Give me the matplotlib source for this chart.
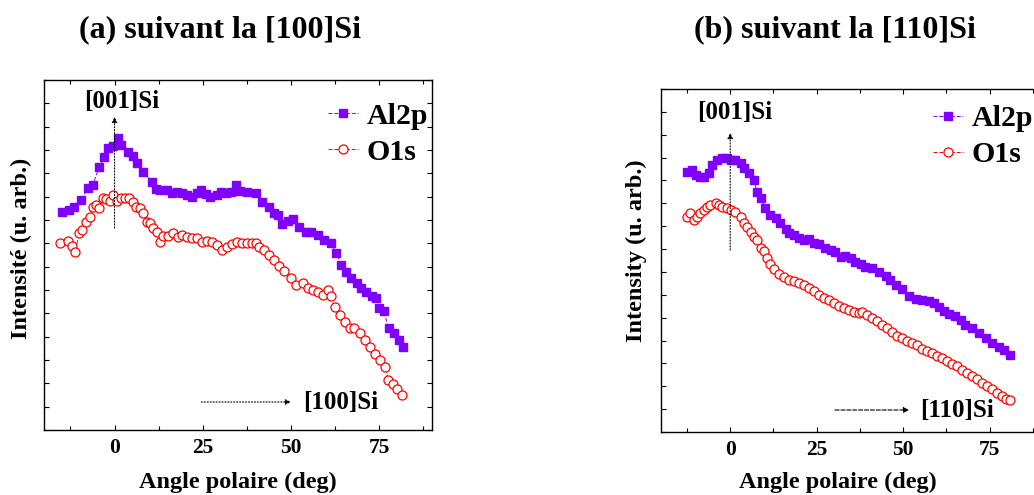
"""Angular distributions of Al2p and O1s photoelectron intensities."""

import matplotlib
matplotlib.use("Agg")
import matplotlib.pyplot as plt
import numpy as np
from matplotlib.ticker import MultipleLocator, NullFormatter

plt.rcParams["font.family"] = ["Liberation Serif", "DejaVu Serif"]
plt.rcParams["font.weight"] = "bold"

PURPLE = "#7f00ff"
RED = "#ff0000"

# (a) along [100]Si -- intensities in arbitrary units
a_al2p_angle = [-14.8, -12.9, -11.4, -9.5, -7.6, -6.2, -4.3, -2.9, -1.9, -0.5, 0.9, 1.9,
                3.8, 5.2, 6.3, 8.1, 10.5, 11.7, 12.9, 14.8, 16.2, 17.6, 19.1, 20.5, 21.9,
                23.3, 24.6, 26.0, 27.1, 29.1, 30.3, 31.7, 32.9, 34.3, 35.7, 37.6, 40.0,
                41.9, 43.8, 45.2, 46.3, 47.6, 49.1, 50.6, 52.4, 54.3, 55.7, 57.6, 59.5,
                61.4, 62.9, 64.3, 65.7, 67.1, 68.6, 70.0, 71.4, 72.9, 74.0, 74.9, 76.3,
                77.7, 79.1, 80.6, 81.9]
a_al2p_int = [218.3, 220, 223.3, 230, 241.7, 245, 263.3, 272.7, 281.7, 284, 292.3, 285,
              278.3, 274, 267, 258.3, 248.3, 241, 240, 240, 236.7, 238.3, 236.7, 235, 232.5,
              236.7, 240, 236, 233, 235, 238, 237, 238.3, 245, 239, 238.3, 236.7,
              228.3, 223.3, 216.7, 215, 206, 208.5, 211, 203.3, 198, 198.3, 195, 190,
              186.7, 176.7, 165, 158.3, 151.7, 146.7, 141.7, 138.3, 134.5, 131.7, 121.7, 119,
              101.7, 96.7, 90, 83.3]

a_o1s_angle = [-15.5, -13.3, -12.2, -11.2, -10.0, -9.2, -8.1, -7.1, -6.2, -5.2, -4.3, -3.3,
               -2.4, -1.4, -0.3, 0.8, 1.9, 3.1, 4.1, 5.1, 6.2, 7.1, 8.1, 9.1, 10.0, 10.9,
               11.9, 12.9, 13.8, 15.2, 16.7, 18.1, 19.1, 20.5, 21.9, 23.3, 24.8, 26.2,
               27.6, 29.1, 30.5, 31.9, 33.3, 34.8, 36.2, 37.6, 38.9, 40.0, 40.9, 42.4,
               43.8, 45.2, 46.7, 48.1, 50.0, 51.4, 53.3, 54.8, 56.2, 57.6, 59.1, 60.5,
               61.4, 62.4, 63.8, 65.2, 66.7, 68.0, 69.5, 70.9, 72.4, 73.8, 75.2, 76.7,
               77.6, 78.9, 80.0, 81.4]
a_o1s_int = [187.3, 189.3, 184, 178.3, 196.7, 200, 208.3, 213.3, 223.3, 225, 221.7, 231.7,
             230.7, 229.3, 235, 229.3, 231.7, 231.7, 231.7, 228.3, 223.3, 221.7, 216.7, 208.3,
             206.7, 201.7, 198.3, 188.3, 194.3, 194.3, 197.3, 193.3, 195, 193.3, 191.7, 192.3,
             188.3, 189, 188.3, 185, 180, 182.5, 186, 188, 187.3, 186.7, 187, 187.3, 182.7,
             180, 175, 170, 164.5, 159.5, 151.7, 145, 146.7, 141.7, 140, 138.3, 135, 140,
             134, 122.7, 115, 108, 101.7, 101.7, 96.7, 90, 83.3, 76, 70.5, 63.3, 50, 46,
             41.5, 35]

# (b) along [110]Si
b_al2p_angle = [-12.4, -11.0, -10.0, -8.6, -7.6, -6.2, -5.2, -3.8, -2.3, -0.9, 0.1, 1.5,
                3.0, 4.0, 5.4, 6.8, 7.8, 8.8, 10.2, 11.6, 13.1, 14.5, 16.0, 17.1, 18.4,
                19.9, 21.3, 22.7, 24.2, 25.6, 27.5, 29.0, 30.4, 31.9, 33.3, 34.8, 36.2,
                37.7, 39.1, 41.0, 43.0, 44.9, 46.3, 47.8, 49.7, 51.6, 53.6, 55.5, 57.4,
                58.9, 60.3, 61.8, 63.2, 65.1, 66.6, 68.0, 69.9, 71.9, 73.8, 75.7, 77.7,
                79.1, 81.0]
b_al2p_int = [260.3, 262, 257, 255.3, 255.3, 258.7, 267, 272, 273.7, 273.7, 272, 272,
              268.7, 263.7, 258.7, 252, 240.3, 233.7, 223.7, 217, 213.7, 208.7, 203, 199, 197,
              194.5, 192, 193, 188.7, 188, 184.5, 182, 180, 175.3, 176.5, 173.7, 170.3,
              168, 165.3, 163.7, 160, 156.5, 152, 147, 143, 136, 133, 132, 131,
              129, 125, 121, 118.5, 116, 112, 107, 103.7, 98.7, 93.7, 88.7, 85.3,
              82, 77]

b_o1s_angle = [-12.4, -11.5, -10.5, -9.5, -8.6, -7.6, -6.6, -5.7, -4.2, -3.3, -2.3, -0.9,
               0.1, 1.5, 3.0, 4.0, 4.9, 5.9, 6.8, 7.8, 8.8, 9.7, 10.7, 11.6, 12.6, 14.1,
               15.5, 17.0, 18.4, 19.9, 21.3, 22.7, 24.2, 25.6, 27.1, 28.5, 30.0, 31.4,
               32.9, 34.3, 35.8, 37.2, 38.2, 39.6, 41.0, 42.5, 43.9, 45.4, 46.8, 48.3,
               49.7, 51.2, 52.6, 54.0, 55.5, 56.9, 58.4, 59.8, 61.3, 62.7, 64.2, 65.6,
               67.1, 68.5, 69.9, 71.4, 72.8, 74.3, 75.7, 77.2, 78.6, 79.8, 81.0]
b_o1s_int = [215.3, 218.7, 212, 215.3, 218.7, 222, 225.3, 227, 229.3, 227, 225.3, 223.7,
             222, 220.3, 215.3, 208.7, 205.3, 200.3, 195.3, 192, 183.7, 181, 174.5, 168.5,
             163, 158, 155, 152.5, 151, 149.3, 147, 144, 141, 137.5, 134.5, 132, 129, 126,
             123.7, 122, 120.3, 119.5, 120.3, 117, 114.5, 111, 107.5, 103.7, 100, 96.5,
             94, 91, 89.5, 87, 83.5, 81.5, 79.5, 76.5, 74.5, 71, 68.2, 66,
             62.5, 59.3, 56, 52.7, 49.3, 46, 42.6, 39.3, 36, 33.5, 32]

x_ticks = [0, 25, 50, 75]


def style_axes(ax, ymax):
    ax.set_xlim(-20, 90)
    ax.set_ylim(0, ymax)
    ax.set_xticks(x_ticks)
    ax.xaxis.set_minor_locator(MultipleLocator(12.5))
    ax.set_yticks(np.linspace(0, ymax, 16))
    ax.yaxis.set_major_formatter(NullFormatter())
    ax.tick_params(which="both", direction="in", top=True, right=True,
                   labelsize=15.5, pad=6, width=0.8)
    ax.tick_params(which="major", length=3.5)
    ax.tick_params(which="minor", length=3)
    for label in ax.get_xticklabels():
        label.set_fontweight("bold")
    for spine in ax.spines.values():
        spine.set_linewidth(1.0)


def plot_series(ax, angle, al2p, o1s_angle, o1s):
    ax.plot(angle, al2p, color=PURPLE, lw=0.7, ls=(0, (4, 2)), marker="s",
            ms=6.3, mec=PURPLE, mfc=PURPLE, label="Al2p")
    ax.plot(o1s_angle, o1s, color=RED, lw=0.7, ls=(0, (4, 2)), marker="o",
            ms=6.5, mec=RED, mfc="white", mew=0.9, label="O1s")


def add_legend(ax, anchor):
    ax.legend(loc="upper left", bbox_to_anchor=anchor, frameon=False,
              handlelength=1.0, handletextpad=0.3, labelspacing=0.3,
              borderpad=0, borderaxespad=0, numpoints=1,
              prop={"weight": "bold", "size": 21.5})


def add_arrow(ax, start, end, style):
    ax.annotate("", xy=end, xytext=start,
                arrowprops=dict(arrowstyle="-|>", ls=style, lw=0.8, color="k",
                                mutation_scale=8, shrinkA=0, shrinkB=0))


fig = plt.figure(figsize=(10.34, 4.95), dpi=100)
ax1 = fig.add_axes([44 / 1034, 65 / 495, 388 / 1034, 350 / 495])
ax2 = fig.add_axes([661 / 1034, 63 / 495, 380.6 / 1034, 343 / 495])

# panel (a)
plot_series(ax1, a_al2p_angle, a_al2p_int, a_o1s_angle, a_o1s_int)
style_axes(ax1, 350)
ax1.set_xlabel("Angle polaire (deg)", fontsize=17.5, fontweight="bold")
ax1.set_ylabel("Intensité (u. arb.)", fontsize=17.5, fontweight="bold")
ax1.xaxis.set_label_coords(0.5, -0.12)
ax1.yaxis.set_label_coords(-0.03, 0.52)
add_arrow(ax1, (0, 202), (0, 313), ":")
ax1.text(2.0, 328, "[001]Si", fontsize=18, fontweight="bold", ha="center", va="center")
add_arrow(ax1, (24.6, 28), (50, 28), ":")
ax1.text(53.4, 27, "[100]Si", fontsize=18, fontweight="bold", ha="left", va="center")
add_legend(ax1, (0.732, 0.935))

# panel (b)
plot_series(ax2, b_al2p_angle, b_al2p_int, b_o1s_angle, b_o1s_int)
style_axes(ax2, 343)
ax2.set_xlabel("Angle polaire (deg)", fontsize=17.5, fontweight="bold")
ax2.set_ylabel("Intensity (u. arb.)", fontsize=17.5, fontweight="bold")
ax2.xaxis.set_label_coords(0.465, -0.117)
ax2.yaxis.set_label_coords(-0.038, 0.53)
add_arrow(ax2, (0, 182), (0, 299), ":")
ax2.text(1.4, 320, "[001]Si", fontsize=18, fontweight="bold", ha="center", va="center")
add_arrow(ax2, (30.3, 22), (51.7, 22), "--")
ax2.text(54.9, 22, "[110]Si", fontsize=18, fontweight="bold", ha="left", va="center")
add_legend(ax2, (0.715, 0.952))

fig.text(220 / 1034, 1 - 30 / 495, "(a) suivant la [100]Si", fontsize=23,
         fontweight="bold", ha="center", va="center")
fig.text(835 / 1034, 1 - 30 / 495, "(b) suivant la [110]Si", fontsize=23,
         fontweight="bold", ha="center", va="center")

fig.savefig("out.png", dpi=100)
